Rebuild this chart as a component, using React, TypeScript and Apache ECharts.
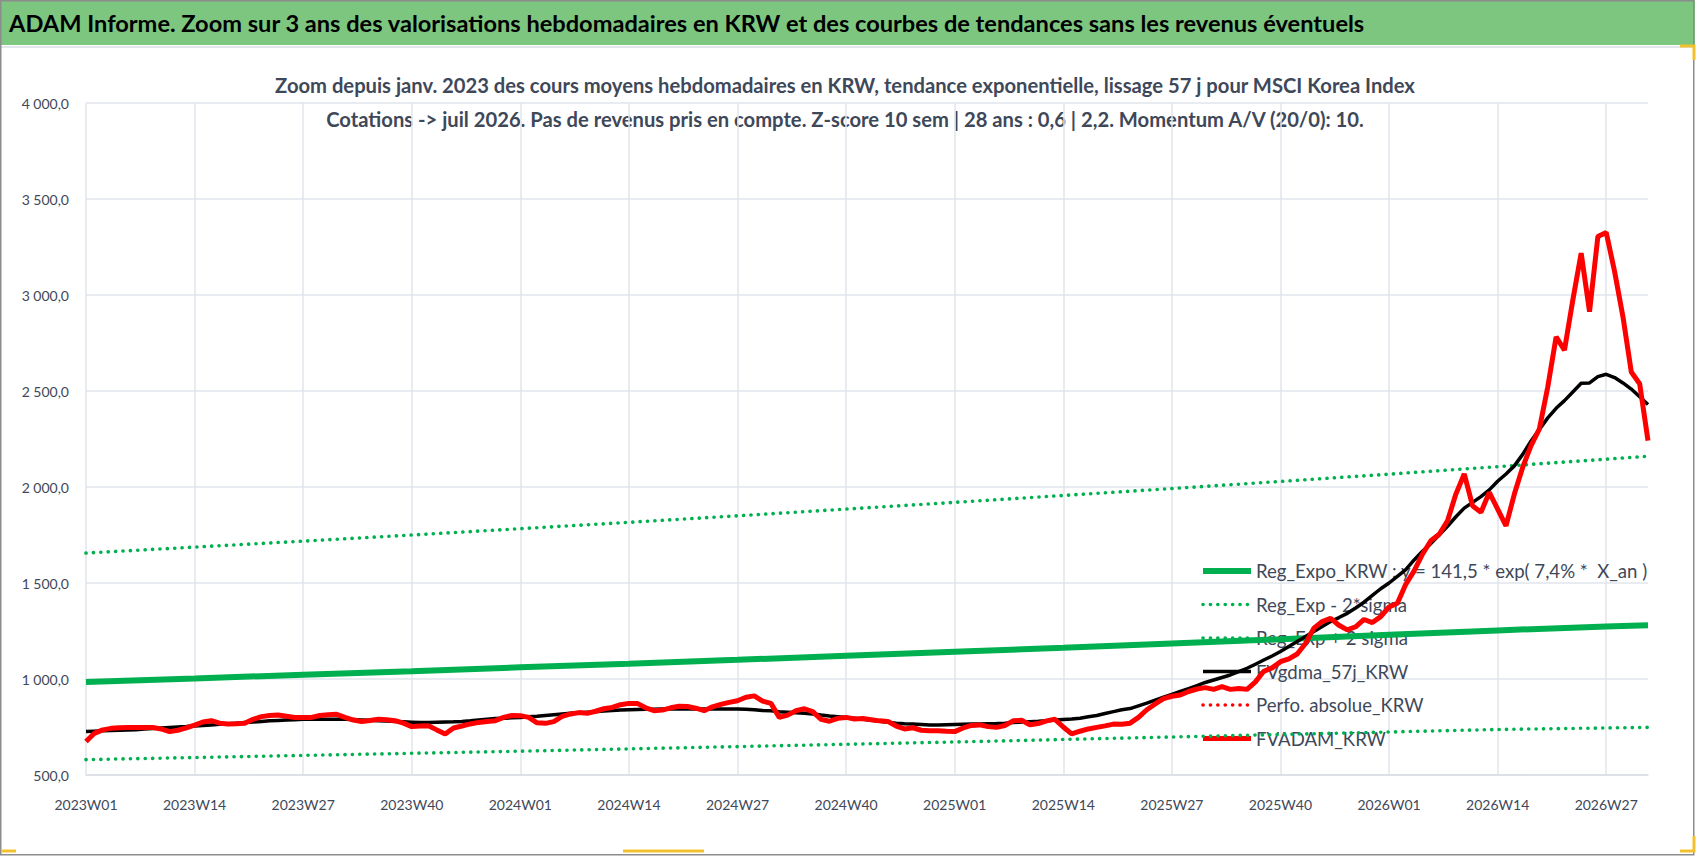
import * as echarts from 'echarts';
import { useEffect, useRef } from 'react';

const WIDTH = 1698;
const HEIGHT = 856;
const FONT = "Lato, 'Open Sans', sans-serif";
const INK = '#3e4859';

const years = [2023, 2024, 2025, 2026];
const weeksInYear = [52, 52, 52, 32];
const weeks = years.flatMap((year, i) =>
  Array.from({ length: weeksInYear[i] }, (_, k) => `${year}W${String(k + 1).padStart(2, '0')}`),
);

// regression curves, read at every labelled week and at the last week
const trendWeeks = [
  '2023W01', '2023W14', '2023W27', '2023W40', '2024W01', '2024W14', '2024W27', '2024W40',
  '2025W01', '2025W14', '2025W27', '2025W40', '2026W01', '2026W14', '2026W27', '2026W32',
];
const regExpo = [985, 1003, 1022, 1041, 1061, 1080, 1100, 1121, 1142, 1163, 1185, 1207, 1230, 1253, 1274, 1280];
const regMinus2Sigma = [580, 591, 602, 613, 624, 636, 648, 660, 672, 685, 698, 711, 724, 737, 745, 748];
const regPlus2Sigma = [1656, 1687, 1718, 1750, 1783, 1816, 1850, 1885, 1920, 1956, 1992, 2029, 2067, 2106, 2145, 2160];

// weekly values, one per entry of weeks
const fvGdma57j = [
  726, 728, 730, 732, 733, 734, 736, 739, 742, 745, 748, 750, 752,
  755, 758, 761, 764, 767, 770, 773, 776, 779, 782, 784, 786, 788,
  790, 790, 790, 790, 790, 790, 789, 787, 785, 783, 781, 779, 777,
  775, 773, 774, 775, 776, 777, 779, 782, 786, 790, 794, 796, 798,
  800, 803, 806, 810, 814, 818, 821, 824, 827, 830, 833, 836, 839,
  840, 841, 842, 843, 844, 844, 844, 844, 844, 844, 844, 844, 844,
  844, 842, 840, 836, 834, 830, 827, 824, 821, 818, 812, 807, 803,
  799, 795, 790, 785, 780, 775, 770, 767, 765, 763, 761, 761, 762,
  763, 764, 765, 766, 767, 768, 770, 773, 776, 778, 780, 783, 786,
  789, 792, 796, 803, 810, 820, 830, 840, 846, 860, 874, 890, 905,
  920, 935, 950, 965, 982, 995, 1008, 1021, 1038, 1056, 1077, 1099, 1120,
  1143, 1169, 1195, 1221, 1247, 1273, 1299, 1320, 1342, 1370, 1400, 1435, 1470,
  1500, 1535, 1570, 1620, 1665, 1705, 1750, 1795, 1845, 1890, 1920, 1950, 1985,
  2030, 2068, 2110, 2170, 2240, 2300, 2360, 2410, 2450, 2495, 2540, 2542, 2575,
  2587, 2570, 2542, 2510, 2470, 2430,
];
const fvAdam = [
  674, 717, 735, 743, 746, 747, 747, 747, 747, 740, 726, 733, 745,
  760, 776, 783, 770, 766, 767, 769, 790, 804, 810, 812, 806, 800,
  800, 800, 810, 814, 816, 800, 786, 779, 784, 790, 788, 783, 770,
  752, 755, 757, 735, 714, 745, 755, 766, 774, 779, 783, 800, 810,
  809, 800, 772, 769, 778, 805, 818, 825, 821, 832, 845, 852, 866,
  873, 873, 850, 835, 838, 850, 858, 857, 848, 835, 855, 868, 878,
  887, 905, 912, 885, 873, 800, 812, 835, 845, 830, 790, 780, 795,
  800, 792, 794, 788, 782, 779, 755, 740, 746, 733, 731, 731, 728,
  726, 745, 758, 761, 752, 748, 758, 782, 785, 762, 768, 782, 790,
  750, 714, 728, 740, 748, 756, 765, 764, 770, 800, 840, 870, 898,
  910, 917, 935, 948, 955, 946, 960, 946, 951, 946, 985, 1040, 1058,
  1090, 1105, 1130, 1185, 1265, 1299, 1316, 1280, 1256, 1272, 1310, 1294, 1325,
  1375, 1395, 1493, 1563, 1650, 1720, 1754, 1824, 1963, 2068, 1902, 1868, 1972,
  1885, 1798, 1963, 2103, 2216, 2303, 2521, 2782, 2713, 2974, 3218, 2913, 3305,
  3326, 3122, 2887, 2599, 2538, 2242,
];
const perfoAbsolue: number[] = [];

const seriesNames = [
  'Reg_Expo_KRW : y = 141,5 * exp( 7,4% *  X_an )',
  'Reg_Exp - 2*sigma',
  'Reg_Exp + 2 sigma',
  'FVgdma_57j_KRW',
  'Perfo. absolue_KRW',
  'FVADAM_KRW',
];

const headline = 'ADAM Informe. Zoom sur 3 ans des valorisations hebdomadaires en KRW et des courbes de tendances sans les revenus éventuels';
const subtitleLines = [
  'Zoom depuis janv. 2023 des cours moyens hebdomadaires en KRW, tendance exponentielle, lissage 57 j pour MSCI Korea Index',
  'Cotations -> juil 2026. Pas de revenus pris en compte. Z-score 10 sem | 28 ans : 0,6 | 2,2. Momentum A/V (20/0): 10.',
];

const formatValue = (value: number) =>
  `${String(Math.round(value)).replace(/\B(?=(\d{3})+(?!\d))/g, ' ')},0`;

const GREEN = '#00b050';
const RED = '#ff0000';
const HANDLE = '#f2c12e';
const dots = { type: [0.1, 7.3] as number[], cap: 'round' as const, width: 3.6 };

// small selection-handle marks along the frame
const handleLine = (points: number[][]) => ({
  type: 'polyline',
  shape: { points },
  style: { stroke: HANDLE, lineWidth: 3, fill: 'none' },
});

function AdamChart() {
  const container = useRef<HTMLDivElement>(null);

  useEffect(() => {
    const element = container.current;
    if (!element) return undefined;
    const chart = echarts.init(element, undefined, { renderer: 'svg' });

    const trend = (values: number[]) => trendWeeks.map((week, i) => [week, values[i]]);

    chart.setOption({
      animation: false,
      backgroundColor: '#ffffff',
      textStyle: { fontFamily: FONT },
      graphic: [
        {
          type: 'rect',
          shape: { x: 0, y: 0, width: 1695, height: 45 },
          style: { fill: '#7dc67f' },
        },
        {
          type: 'text',
          x: 9,
          y: 23,
          style: {
            text: headline,
            fill: '#000000',
            font: `bold 23.6px ${FONT}`,
            verticalAlign: 'middle',
          },
        },
        {
          type: 'line',
          shape: { x1: 0, y1: 47, x2: 1693, y2: 47 },
          style: { stroke: '#e3e6ea', lineWidth: 2 },
        },
        {
          type: 'rect',
          shape: { x: 0.75, y: 0.75, width: 1693, height: 854 },
          style: { fill: 'none', stroke: '#8c8c8c', lineWidth: 1.5 },
        },
        handleLine([[1680, 46], [1694, 46], [1694, 60]]),
        handleLine([[1694, 836], [1694, 851], [1680, 851]]),
        handleLine([[623, 851], [704, 851]]),
        handleLine([[2, 851], [16, 851]]),
        ...subtitleLines.map((line, i) => ({
          type: 'text',
          x: 845,
          y: 85 + i * 34,
          style: {
            text: line,
            fill: INK,
            font: `bold 20.2px ${FONT}`,
            align: 'center',
            verticalAlign: 'middle',
          },
        })),
      ],
      legend: {
        orient: 'vertical',
        left: 1195,
        top: 556,
        z: 1,
        itemWidth: 48,
        itemHeight: 14,
        itemGap: 13.5,
        data: seriesNames,
        itemStyle: { opacity: 0 },
        lineStyle: { width: 'inherit' },
        textStyle: { color: INK, fontSize: 18.6, lineHeight: 20, fontFamily: FONT },
      },
      grid: { left: 86, right: WIDTH - 1648, top: 103, bottom: HEIGHT - 775 },
      xAxis: {
        type: 'category',
        data: weeks,
        boundaryGap: false,
        axisLine: { lineStyle: { color: '#dadee5', width: 1.5 } },
        axisTick: { show: false },
        axisLabel: { interval: 12, color: INK, fontSize: 14, margin: 22, fontFamily: FONT },
        splitLine: { show: true, interval: 12, lineStyle: { color: '#e1e5eb', width: 1.5 } },
      },
      yAxis: {
        type: 'value',
        min: 500,
        max: 4000,
        interval: 500,
        axisLine: { show: false },
        axisTick: { show: false },
        axisLabel: { color: INK, fontSize: 14, margin: 17, formatter: formatValue, fontFamily: FONT },
        splitLine: { lineStyle: { color: '#e1e5eb', width: 1.5 } },
      },
      series: [
        {
          name: seriesNames[0],
          type: 'line',
          z: 2,
          symbol: 'none',
          data: trend(regExpo),
          lineStyle: { color: GREEN, width: 6 },
          itemStyle: { color: GREEN },
        },
        {
          name: seriesNames[1],
          type: 'line',
          z: 2,
          symbol: 'none',
          data: trend(regMinus2Sigma),
          lineStyle: { color: GREEN, ...dots },
          itemStyle: { color: GREEN },
        },
        {
          name: seriesNames[2],
          type: 'line',
          z: 2,
          symbol: 'none',
          data: trend(regPlus2Sigma),
          lineStyle: { color: GREEN, ...dots },
          itemStyle: { color: GREEN },
        },
        {
          name: seriesNames[3],
          type: 'line',
          z: 3,
          symbol: 'none',
          data: fvGdma57j,
          lineStyle: { color: '#000000', width: 3.5 },
          itemStyle: { color: '#000000' },
        },
        {
          name: seriesNames[4],
          type: 'line',
          z: 3,
          symbol: 'none',
          data: perfoAbsolue,
          lineStyle: { color: RED, ...dots },
          itemStyle: { color: RED },
        },
        {
          name: seriesNames[5],
          type: 'line',
          z: 4,
          symbol: 'none',
          data: fvAdam,
          lineStyle: { color: RED, width: 5 },
          itemStyle: { color: RED },
        },
      ],
    });

    return () => chart.dispose();
  }, []);

  return <div ref={container} style={{ width: WIDTH, height: HEIGHT }} />;
}

export default function App() {
  return (
    <div style={{ position: 'fixed', left: 0, top: 0, width: WIDTH, height: HEIGHT, background: '#ffffff' }}>
      <AdamChart />
    </div>
  );
}
